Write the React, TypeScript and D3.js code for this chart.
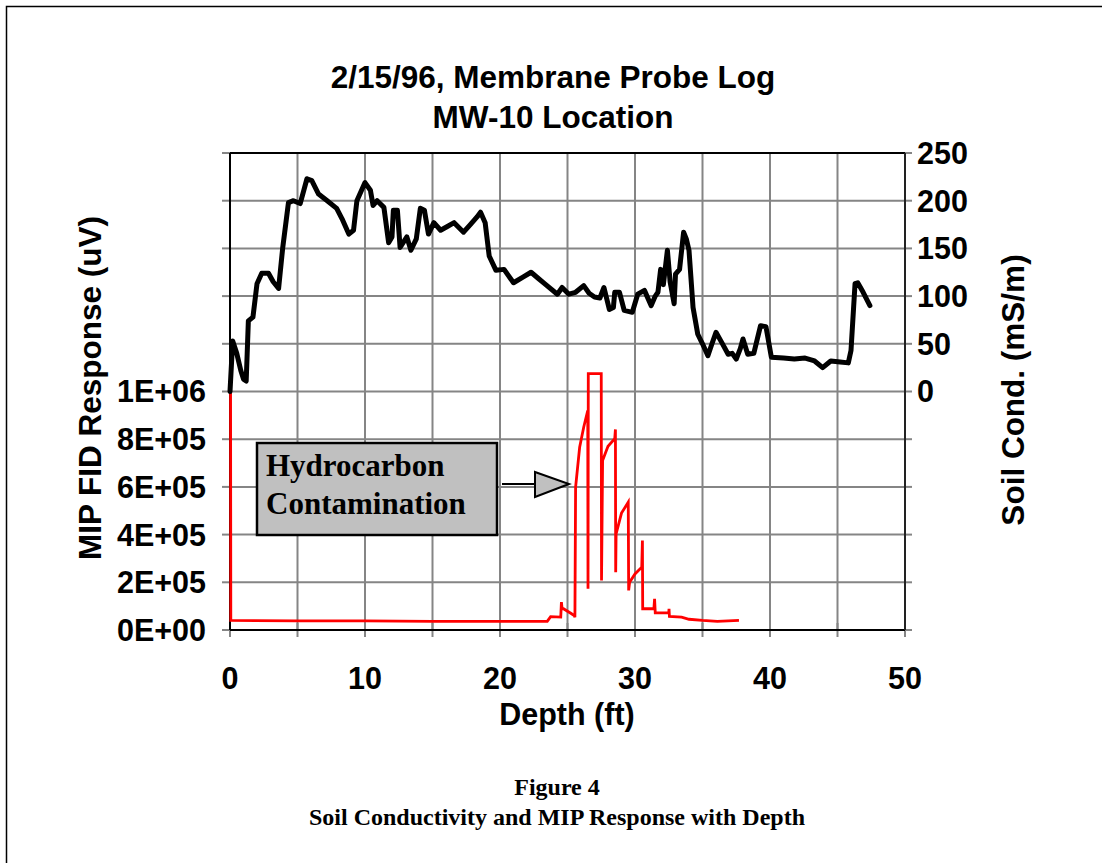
import React from 'react';
import * as d3 from 'd3';

// ---- Data ----
const condDepth = [0, 0.2, 0.5, 0.8, 1.0, 1.2, 1.36, 1.7, 2.0, 2.35, 2.85, 3.2, 3.6, 3.9, 4.33, 4.7, 5.2, 5.7, 6.06, 6.56, 7.2, 7.9, 8.3, 8.8, 9.15, 9.4, 10.0, 10.4, 10.6, 10.9, 11.4, 11.75, 12.0, 12.1, 12.4, 12.6, 13.1, 13.4, 13.8, 14.1, 14.4, 14.7, 15.1, 15.6, 16.1, 16.6, 17.3, 17.8, 18.3, 18.56, 18.9, 19.2, 19.7, 20.3, 21.0, 21.7, 22.3, 22.8, 23.3, 24.25, 24.6, 25.1, 25.6, 26.2, 26.6, 27.0, 27.4, 27.7, 28.1, 28.4, 28.5, 28.85, 29.2, 29.8, 30.2, 30.7, 31.2, 31.5, 31.7, 31.9, 32.1, 32.4, 32.6, 32.9, 33.0, 33.3, 33.6, 33.8, 34.0, 34.3, 34.65, 35.0, 35.4, 35.7, 36.0, 36.4, 36.9, 37.2, 37.5, 37.8, 38.0, 38.35, 38.8, 39.3, 39.7, 40.1, 41.0, 41.8, 42.6, 43.3, 43.9, 44.5, 45.2, 45.8, 46.0, 46.3, 46.5, 46.9, 47.4];
const condValue = [0, 53, 40, 22, 13, 11, 74, 78, 113, 124, 124, 115, 108, 150, 198, 200, 197, 223, 221, 207, 200, 192, 181, 165, 169, 200, 219, 211, 195, 200, 193, 156, 162, 190, 190, 151, 162, 148, 160, 192, 190, 165, 177, 169, 173, 177, 167, 175, 183, 188, 177, 142, 127, 128, 114, 120, 125, 119, 113, 102, 109, 102, 104, 111, 103, 99, 98, 109, 86, 88, 104, 104, 85, 83, 102, 106, 90, 100, 104, 128, 112, 148, 115, 92, 123, 128, 167, 160, 148, 88, 60, 50, 37.5, 50, 62, 52, 39, 40, 34, 45, 55, 39, 40, 69, 68, 36, 35, 34, 35, 32, 25, 32, 31, 30, 43, 113, 114, 104, 90];

const fidDepth = [0, 0.04, 0.06, 5, 10, 15, 20, 23.5, 23.75, 24.5, 24.55, 24.6, 24.7, 25.3, 25.5, 25.55, 25.6, 25.9, 26.2, 26.5, 26.52, 26.54, 27.5, 27.52, 27.6, 28.0, 28.5, 28.55, 28.57, 28.6, 29.0, 29.5, 29.53, 29.6, 30.0, 30.5, 30.55, 30.57, 31.4, 31.45, 31.5, 32.5, 32.52, 32.55, 33.45, 34.0, 35.0, 36.1, 37.7];
const fidValue = [1075000, 1075000, 40000, 38000, 38000, 36000, 36000, 36000, 56000, 54000, 117000, 89000, 89000, 68000, 60000, 54000, 599000, 766000, 850000, 920000, 173000, 1075000, 1075000, 208000, 711000, 770000, 802000, 841000, 242000, 403000, 490000, 536000, 166000, 200000, 235000, 263000, 375000, 89000, 89000, 131000, 72000, 72000, 89000, 57000, 54000, 45000, 40000, 36000, 40000];

const xLabelTicks = [0, 10, 20, 30, 40, 50];
const xGridTicks = [0, 5, 10, 15, 20, 25, 30, 35, 40, 45, 50];
const leftGridValues = [0, 2e5, 4e5, 6e5, 8e5, 1e6, 1.2e6, 1.4e6, 1.6e6, 1.8e6, 2e6];
const leftLabelValues = [0, 2e5, 4e5, 6e5, 8e5, 1e6];
const leftLabels = ['0E+00', '2E+05', '4E+05', '6E+05', '8E+05', '1E+06'];
const rightLabelValues = [0, 50, 100, 150, 200, 250];
const titleLines = ['2/15/96, Membrane Probe Log', 'MW-10 Location'];
const boxLines = ['Hydrocarbon', 'Contamination'];
const captionLines = ['Figure 4', 'Soil Conductivity and MIP Response with Depth'];

const SANS = '"Liberation Sans", Arial, sans-serif';
const SERIF = '"Liberation Serif", "Times New Roman", serif';

export default function App() {
  const W = 1102, H = 863;
  const x = d3.scaleLinear().domain([0, 50]).range([230, 905]);
  const yL = d3.scaleLinear().domain([0, 2e6]).range([630, 153]);
  const yR = d3.scaleLinear().domain([-250, 250]).range([630, 153]);

  const condLine = d3.line<number>().x((d, i) => x(condDepth[i])).y((d) => yR(d));
  const fidLine = d3.line<number>().x((d, i) => x(fidDepth[i])).y((d) => yL(d));

  const grid = '#858585';
  return (
    <svg width={W} height={H} style={{ position: 'absolute', left: 0, top: 0, background: '#fff' }}>
      <rect x={6.5} y={6.5} width={W + 20} height={H + 20} fill="none" stroke="#000" strokeWidth={1.5} />
      {/* title */}
      {titleLines.map((t, i) => (
        <text key={t} x={553} y={88 + i * 40} textAnchor="middle" fontFamily={SANS} fontWeight="bold" fontSize={31.5}>{t}</text>
      ))}
      {/* grid */}
      {xGridTicks.map((v) => (
        <line key={'gx' + v} x1={x(v)} x2={x(v)} y1={153} y2={630} stroke={grid} strokeWidth={2} />
      ))}
      {leftGridValues.map((v) => (
        <line key={'gy' + v} x1={230} x2={905} y1={yL(v)} y2={yL(v)} stroke={grid} strokeWidth={2} />
      ))}
      {/* ticks */}
      {leftGridValues.map((v) => (
        <line key={'tl' + v} x1={222} x2={230} y1={yL(v)} y2={yL(v)} stroke={grid} strokeWidth={2} />
      ))}
      {leftGridValues.map((v) => (
        <line key={'tr' + v} x1={905} x2={912} y1={yL(v)} y2={yL(v)} stroke={grid} strokeWidth={2} />
      ))}
      {xGridTicks.map((v) => (
        <line key={'tb' + v} x1={x(v)} x2={x(v)} y1={623} y2={637} stroke={grid} strokeWidth={2} />
      ))}
      {/* axes frame */}
      <line x1={230} x2={905} y1={153} y2={153} stroke="#000" strokeWidth={2} />
      <line x1={230} x2={905} y1={630} y2={630} stroke="#000" strokeWidth={2} />
      <line x1={230} x2={230} y1={153} y2={630} stroke="#000" strokeWidth={2} />
      <line x1={905} x2={905} y1={153} y2={630} stroke="#222" strokeWidth={2} />
      {/* series */}
      <path d={fidLine(fidValue) || ''} fill="none" stroke="#ff0000" strokeWidth={2.8} strokeLinejoin="miter" />
      <path d={condLine(condValue) || ''} fill="none" stroke="#000" strokeWidth={5} strokeLinejoin="round" strokeLinecap="round" />
      {/* tick labels */}
      {leftLabelValues.map((v, i) => (
        <text key={'ll' + v} x={206} y={yL(v)} dy="0.36em" textAnchor="end" fontFamily={SANS} fontWeight="bold" fontSize={30.5}>{leftLabels[i]}</text>
      ))}
      {rightLabelValues.map((v) => (
        <text key={'rl' + v} x={917} y={yR(v)} dy="0.36em" textAnchor="start" fontFamily={SANS} fontWeight="bold" fontSize={30.5}>{String(v)}</text>
      ))}
      {xLabelTicks.map((v) => (
        <text key={'bl' + v} x={x(v)} y={689} textAnchor="middle" fontFamily={SANS} fontWeight="bold" fontSize={30.5}>{String(v)}</text>
      ))}
      {/* axis titles */}
      <text x={567} y={725} textAnchor="middle" fontFamily={SANS} fontWeight="bold" fontSize={30.5}>Depth (ft)</text>
      <text transform="translate(101,388) rotate(-90)" textAnchor="middle" fontFamily={SANS} fontWeight="bold" fontSize={31.5}>MIP FID Response (uV)</text>
      <text transform="translate(1024,390) rotate(-90)" textAnchor="middle" fontFamily={SANS} fontWeight="bold" fontSize={31.5}>Soil Cond. (mS/m)</text>
      {/* annotation */}
      <rect x={257} y={443} width={240} height={92} fill="#c0c0c0" stroke="#000" strokeWidth={2.5} />
      {boxLines.map((t, i) => (
        <text key={t} x={266} y={476 + i * 38} fontFamily={SERIF} fontWeight="bold" fontSize={31}>{t}</text>
      ))}
      <line x1={502} x2={535} y1={484} y2={484} stroke="#000" strokeWidth={2} />
      <polygon points="535,472 569,484 535,497" fill="#c0c0c0" stroke="#000" strokeWidth={2} />
      {/* caption */}
      {captionLines.map((t, i) => (
        <text key={t} x={557} y={795 + i * 30} textAnchor="middle" fontFamily={SERIF} fontWeight="bold" fontSize={24}>{t}</text>
      ))}
    </svg>
  );
}
